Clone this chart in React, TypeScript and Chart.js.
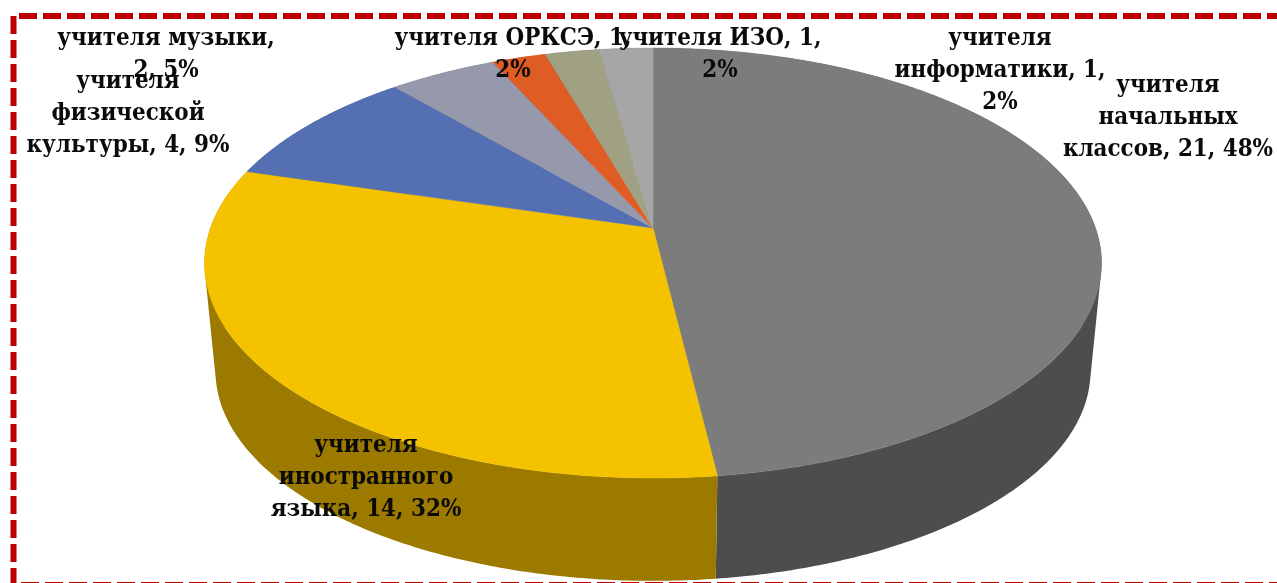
import React, { useEffect, useRef } from "react";
import { Chart, registerables } from "chart.js";

Chart.register(...registerables);

const categories = [
  "учителя начальных классов",
  "учителя иностранного языка",
  "учителя физической культуры",
  "учителя музыки",
  "учителя ОРКСЭ",
  "учителя ИЗО",
  "учителя информатики",
];
const teacherCounts = [21, 14, 4, 2, 1, 1, 1];
const topColors = ["#7c7c7c", "#f5c200", "#5470b3", "#9698ab", "#df5d25", "#a0a083", "#a6a6a6"];
const wallColors = ["#4d4d4d", "#9c7a00", "#34466f", "#5d5e6a", "#8a3a17", "#636351", "#676767"];

// label layout: centre x, first baseline y, wrap width
const labelAnchors = [
  { x: 1168, y: 92, wrap: 225 },
  { x: 366, y: 452, wrap: 200 },
  { x: 128, y: 88, wrap: 215 },
  { x: 166, y: 45, wrap: 235 },
  { x: 513, y: 45, wrap: 250 },
  { x: 720, y: 45, wrap: 215 },
  { x: 1000, y: 45, wrap: 222 },
];
const LABEL_FONT = "bold 25px 'DejaVu Serif Condensed'";
const LABEL_SQUEEZE = 0.955;
const LINE_HEIGHT = 32;

// perspective disc geometry
const CX = 653;
const TOP_APEX = 228;
const BOTTOM_APEX = 337;
const A = 442.5;
const B = 209.3;
const K = 0.1628;
const BOTTOM_SCALE = 0.9755;

function warp(t: number) {
  const v = Math.max(0, Math.sin(t));
  return t + 0.021 * v * v;
}
function project(t: number, apexY: number, s: number) {
  const a = warp(t);
  const u = Math.cos(a);
  const v = Math.sin(a);
  const d = 1 - K * v;
  return { x: CX + (s * A * u) / d, y: apexY + (s * B * v) / d };
}

const pie3dPlugin = {
  id: "pie3d",
  beforeDatasetsDraw(chart: any) {
    const { ctx } = chart;
    const arcs = chart.getDatasetMeta(0).data;
    ctx.save();
    arcs.forEach((arc: any, i: number) => {
      const steps = Math.max(4, Math.ceil((arc.endAngle - arc.startAngle) / 0.01));
      ctx.fillStyle = wallColors[i];
      ctx.beginPath();
      for (let s = 0; s < steps; s++) {
        const t1 = arc.startAngle + ((arc.endAngle - arc.startAngle) * s) / steps;
        const t2 = arc.startAngle + ((arc.endAngle - arc.startAngle) * (s + 1)) / steps;
        const q = [
          project(t1, TOP_APEX, 1),
          project(t2, TOP_APEX, 1),
          project(t2, BOTTOM_APEX, BOTTOM_SCALE),
          project(t1, BOTTOM_APEX, BOTTOM_SCALE),
        ];
        // keep every quad wound the same way so overlaps do not cancel under the nonzero rule
        let area = 0;
        q.forEach((p, n) => {
          const o = q[(n + 1) % 4];
          area += p.x * o.y - o.x * p.y;
        });
        if (area < 0) q.reverse();
        ctx.moveTo(q[0].x, q[0].y);
        ctx.lineTo(q[1].x, q[1].y);
        ctx.lineTo(q[2].x, q[2].y);
        ctx.lineTo(q[3].x, q[3].y);
        ctx.closePath();
      }
      ctx.fill();
    });
    arcs.forEach((arc: any) => {
      const steps = Math.max(4, Math.ceil((arc.endAngle - arc.startAngle) / 0.01));
      ctx.fillStyle = arc.options.backgroundColor;
      ctx.strokeStyle = arc.options.backgroundColor;
      ctx.lineWidth = 0.5;
      ctx.beginPath();
      ctx.moveTo(CX, TOP_APEX);
      for (let s = 0; s <= steps; s++) {
        const p = project(arc.startAngle + ((arc.endAngle - arc.startAngle) * s) / steps, TOP_APEX, 1);
        ctx.lineTo(p.x, p.y);
      }
      ctx.closePath();
      ctx.fill();
      ctx.stroke();
    });
    ctx.restore();
    return false;
  },
  afterDraw(chart: any) {
    const { ctx } = chart;
    ctx.save();
    // dashed frame
    ctx.strokeStyle = "#c00000";
    ctx.setLineDash([18, 6]);
    ctx.lineWidth = 6;
    ctx.beginPath();
    ctx.moveTo(19, 16);
    ctx.lineTo(1277, 16);
    ctx.stroke();
    ctx.beginPath();
    ctx.moveTo(13.5, 16);
    ctx.lineTo(13.5, 583);
    ctx.stroke();
    ctx.beginPath();
    ctx.moveTo(21, 585);
    ctx.lineTo(1277, 585);
    ctx.stroke();
    ctx.setLineDash([]);
    // data labels
    const total = teacherCounts.reduce((a, b) => a + b, 0);
    ctx.font = LABEL_FONT;
    ctx.fillStyle = "#0a0a0a";
    ctx.textAlign = "center";
    ctx.textBaseline = "alphabetic";
    categories.forEach((cat, i) => {
      const text = `${cat}, ${teacherCounts[i]}, ${Math.round((teacherCounts[i] / total) * 100)}%`;
      const anchor = labelAnchors[i];
      const lines: string[] = [];
      let line = "";
      text.split(" ").forEach((w) => {
        const next = line ? line + " " + w : w;
        if (line && ctx.measureText(next).width * LABEL_SQUEEZE > anchor.wrap) {
          lines.push(line);
          line = w;
        } else line = next;
      });
      lines.push(line);
      lines.forEach((l, j) => {
        ctx.save();
        ctx.translate(anchor.x, anchor.y + j * LINE_HEIGHT);
        ctx.scale(LABEL_SQUEEZE, 1);
        ctx.fillText(l, 0, 0);
        ctx.restore();
      });
    });
    ctx.restore();
  },
};

export default function App() {
  const ref = useRef<HTMLCanvasElement>(null);
  useEffect(() => {
    const chart = new Chart(ref.current as HTMLCanvasElement, {
      type: "pie",
      data: {
        labels: categories,
        datasets: [{ data: teacherCounts, backgroundColor: topColors, borderWidth: 0 }],
      },
      options: {
        animation: false,
        responsive: false,
        events: [],
        plugins: { legend: { display: false }, tooltip: { enabled: false } },
      },
      plugins: [pie3dPlugin],
    } as any);
    return () => chart.destroy();
  }, []);
  return (
    <div style={{ position: "fixed", left: 0, top: 0, width: 1277, height: 583, background: "#fff", overflow: "hidden" }}>
      <canvas ref={ref} width={1277} height={583} style={{ display: "block" }} />
    </div>
  );
}
